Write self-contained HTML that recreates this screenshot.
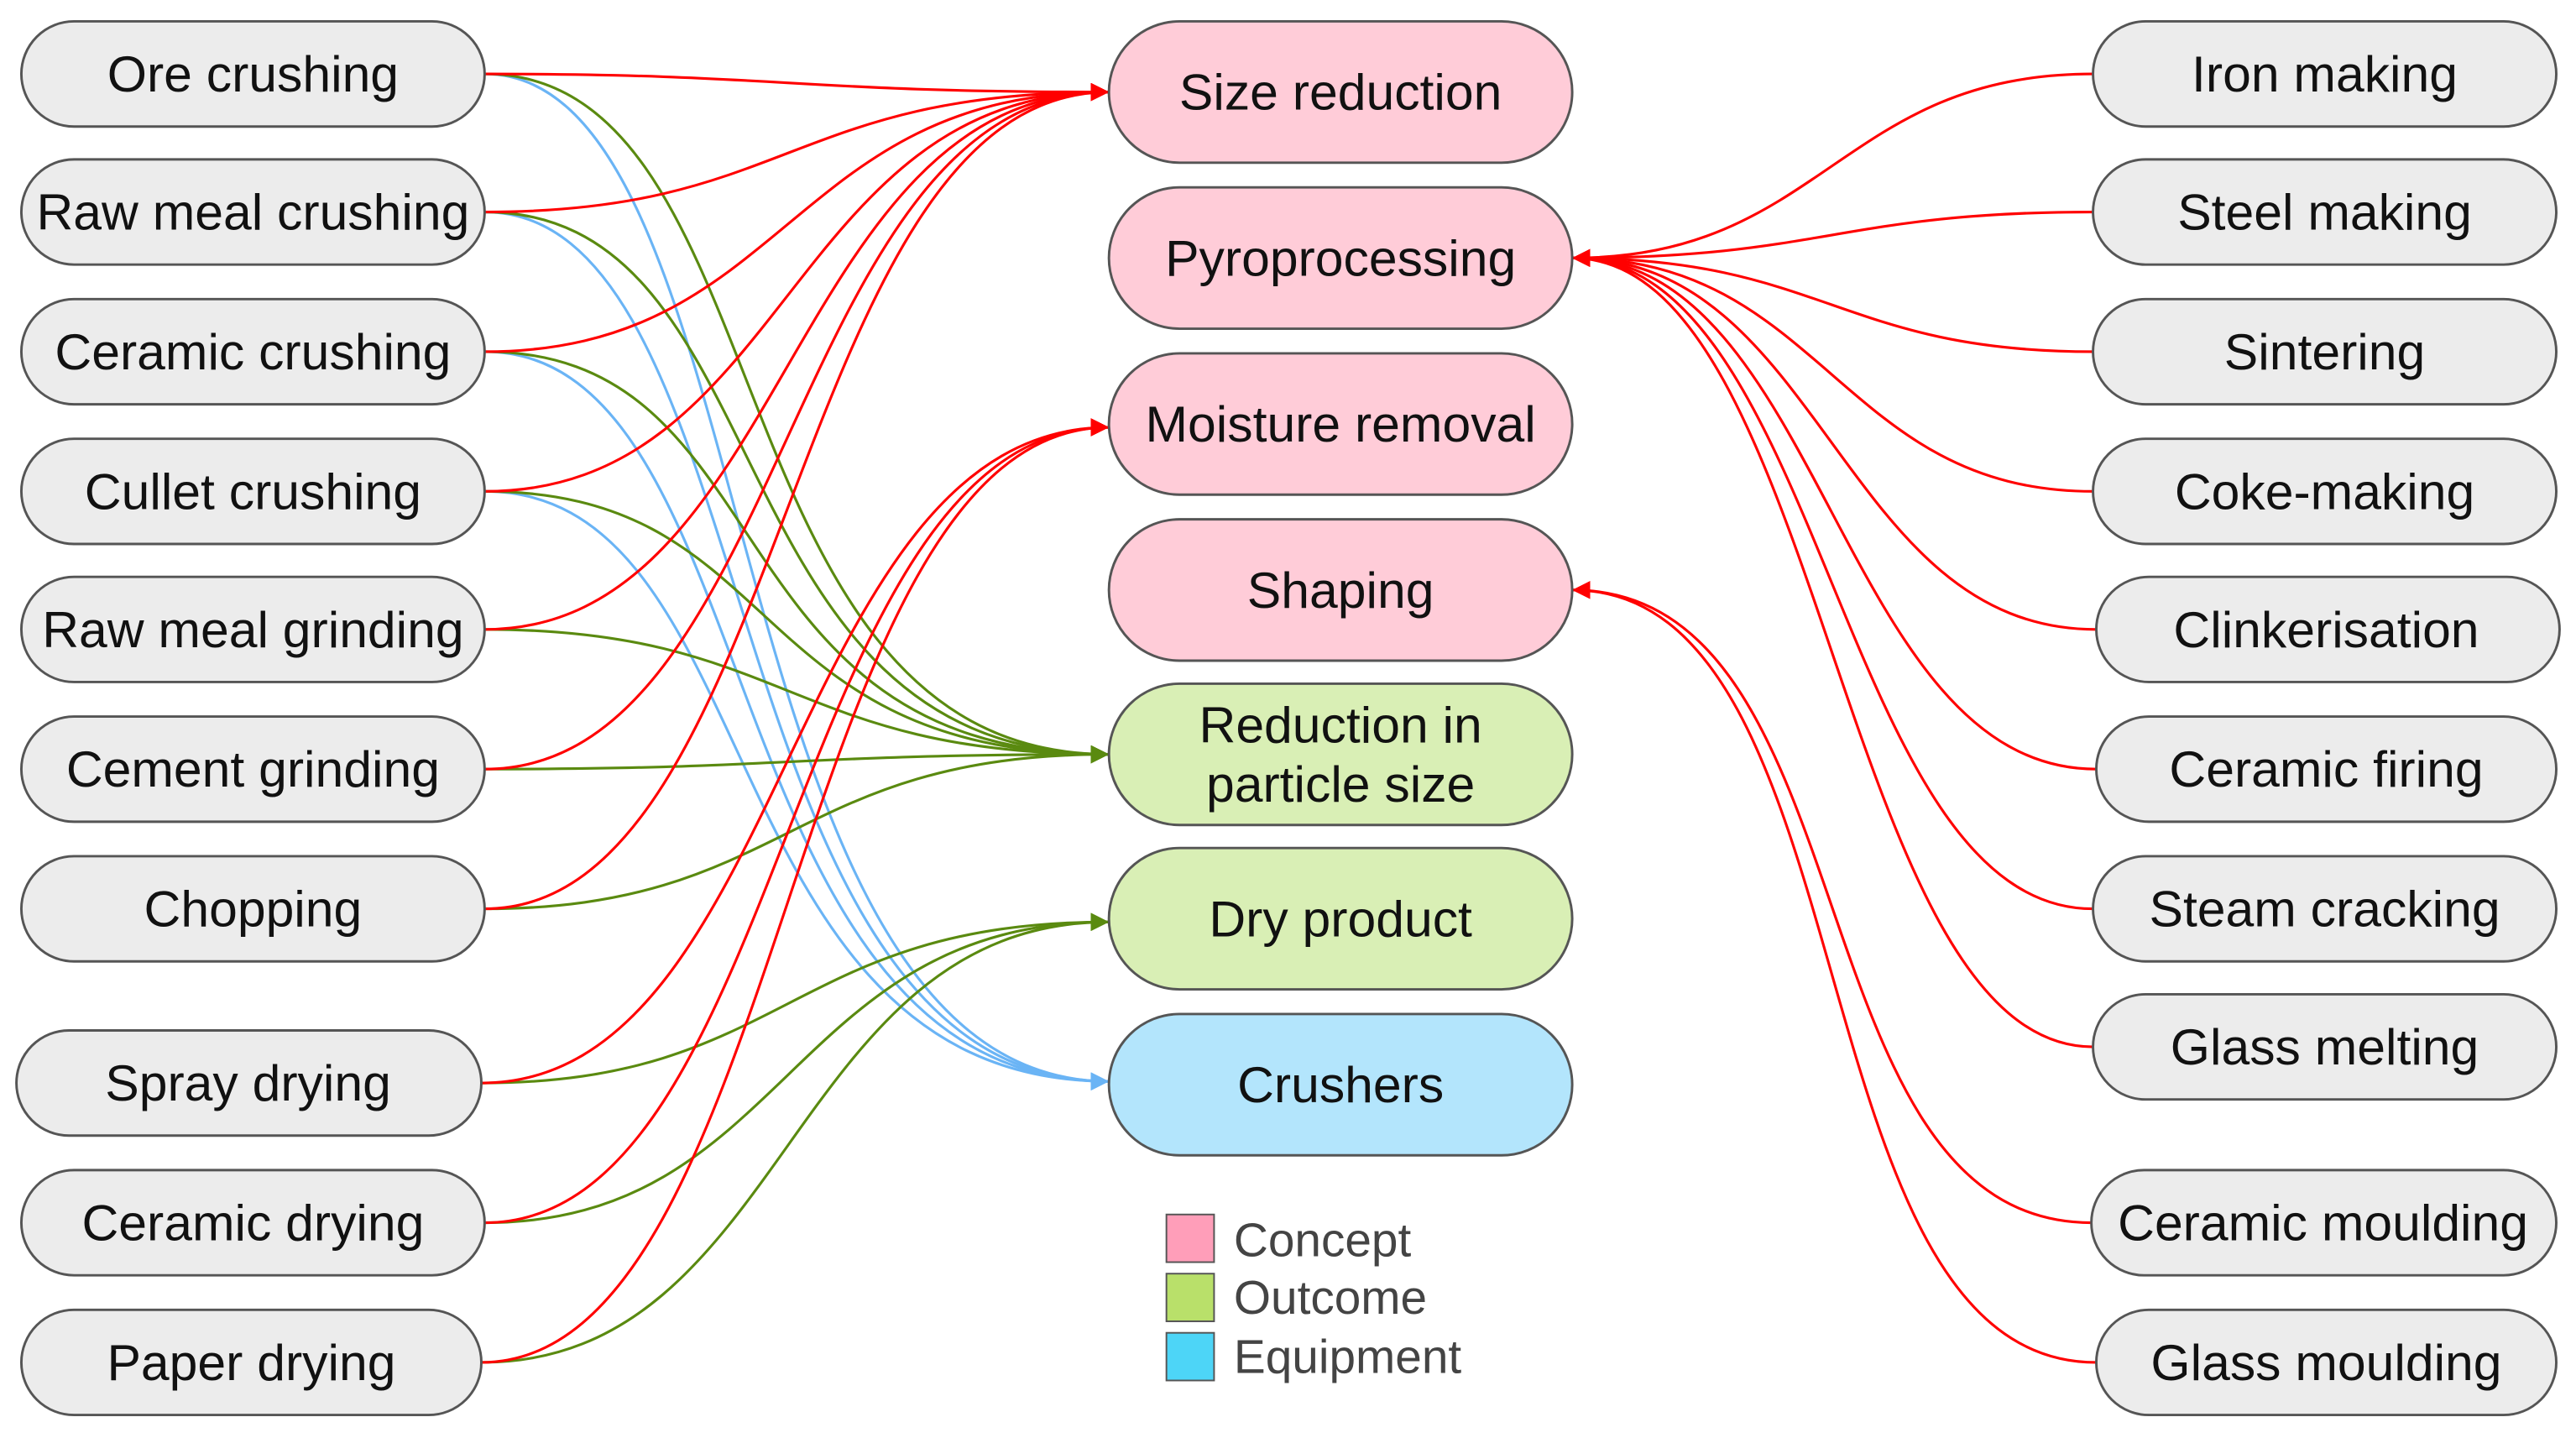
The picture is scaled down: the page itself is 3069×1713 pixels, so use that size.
<!DOCTYPE html>
<html><head><meta charset="utf-8"><style>
html,body{margin:0;padding:0;background:#fff;}
svg{display:block;}
text{font-family:"Liberation Sans",Arial,sans-serif;fill:#111;}
</style></head><body>
<svg width="3069" height="1713" viewBox="0 0 1568 875" preserveAspectRatio="none" xmlns="http://www.w3.org/2000/svg">
<defs>
<marker id="ar" viewBox="0 0 10 10" refX="10" refY="5" markerWidth="11" markerHeight="11" markerUnits="userSpaceOnUse" orient="auto"><path d="M0,0 L10,5 L0,10 z" fill="#ff0000"/></marker>
<marker id="ag" viewBox="0 0 10 10" refX="10" refY="5" markerWidth="11" markerHeight="11" markerUnits="userSpaceOnUse" orient="auto"><path d="M0,0 L10,5 L0,10 z" fill="#5a8a10"/></marker>
<marker id="ab" viewBox="0 0 10 10" refX="10" refY="5" markerWidth="11" markerHeight="11" markerUnits="userSpaceOnUse" orient="auto"><path d="M0,0 L10,5 L0,10 z" fill="#6ab4f5"/></marker>
</defs>
<g fill="none" stroke-width="1.6">
<g stroke="#6ab4f5" marker-end="url(#ab)">
<path d="M295,45 C470,45 430,658 675,658"/>
<path d="M295,129 C470,129 430,658 675,658"/>
<path d="M295,214 C470,214 430,658 675,658"/>
<path d="M295,299 C470,299 430,658 675,658"/>
</g>
<g stroke="#5a8a10" marker-end="url(#ag)">
<path d="M295,45 C480,45 430,459 675,459"/>
<path d="M295,129 C480,129 430,459 675,459"/>
<path d="M295,214 C480,214 430,459 675,459"/>
<path d="M295,299 C480,299 450,459 675,459"/>
<path d="M295,383 C480,383 480,459 675,459"/>
<path d="M295,468 C480,468 480,459 675,459"/>
<path d="M295,553 C480,553 480,459 675,459"/>
<path d="M293,659 C480,659 480,561 675,561"/>
<path d="M295,744 C480,744 480,561 675,561"/>
<path d="M293,829 C480,829 480,561 675,561"/>
</g>
<g stroke="#ff0000" marker-end="url(#ar)">
<path d="M295,45 C480,45 480,56 675,56"/>
<path d="M295,129 C480,129 480,56 675,56"/>
<path d="M295,214 C480,214 480,56 675,56"/>
<path d="M295,299 C480,299 480,56 675,56"/>
<path d="M295,383 C480,383 480,56 675,56"/>
<path d="M295,468 C480,468 480,56 675,56"/>
<path d="M295,553 C480,553 480,56 675,56"/>
<path d="M293,659 C480,659 480,260 675,260"/>
<path d="M295,744 C480,744 480,260 675,260"/>
<path d="M293,829 C480,829 480,260 675,260"/>
</g>
<g stroke="#ff0000" marker-end="url(#ar)">
<path d="M1274,45 C1120,45 1110,157 957,157"/>
<path d="M1274,129 C1120,129 1110,157 957,157"/>
<path d="M1274,214 C1120,214 1110,157 957,157"/>
<path d="M1274,299 C1120,299 1110,157 957,157"/>
<path d="M1276,383 C1120,383 1110,157 957,157"/>
<path d="M1276,468 C1120,468 1110,157 957,157"/>
<path d="M1274,553 C1120,553 1110,157 957,157"/>
<path d="M1274,637 C1120,637 1110,157 957,157"/>
<path d="M1273,744 C1090,744 1140,359 957,359"/>
<path d="M1276,829 C1090,829 1140,359 957,359"/>
</g>
</g>
<g stroke="#555" stroke-width="1.5" fill="#ececec">
<rect x="13" y="13" width="282" height="64" rx="32"/>
<rect x="13" y="97" width="282" height="64" rx="32"/>
<rect x="13" y="182" width="282" height="64" rx="32"/>
<rect x="13" y="267" width="282" height="64" rx="32"/>
<rect x="13" y="351" width="282" height="64" rx="32"/>
<rect x="13" y="436" width="282" height="64" rx="32"/>
<rect x="13" y="521" width="282" height="64" rx="32"/>
<rect x="10" y="627" width="283" height="64" rx="32"/>
<rect x="13" y="712" width="282" height="64" rx="32"/>
<rect x="13" y="797" width="280" height="64" rx="32"/>
<rect x="1274" y="13" width="282" height="64" rx="32"/>
<rect x="1274" y="97" width="282" height="64" rx="32"/>
<rect x="1274" y="182" width="282" height="64" rx="32"/>
<rect x="1274" y="267" width="282" height="64" rx="32"/>
<rect x="1276" y="351" width="282" height="64" rx="32"/>
<rect x="1276" y="436" width="280" height="64" rx="32"/>
<rect x="1274" y="521" width="282" height="64" rx="32"/>
<rect x="1274" y="605" width="282" height="64" rx="32"/>
<rect x="1273" y="712" width="283" height="64" rx="32"/>
<rect x="1276" y="797" width="280" height="64" rx="32"/>
</g>
<g stroke="#555" stroke-width="1.5">
<rect x="675" y="13" width="282" height="86" rx="43" fill="#ffccd8"/>
<rect x="675" y="114" width="282" height="86" rx="43" fill="#ffccd8"/>
<rect x="675" y="215" width="282" height="86" rx="43" fill="#ffccd8"/>
<rect x="675" y="316" width="282" height="86" rx="43" fill="#ffccd8"/>
<rect x="675" y="416" width="282" height="86" rx="43" fill="#d9efb5"/>
<rect x="675" y="516" width="282" height="86" rx="43" fill="#d9efb5"/>
<rect x="675" y="617" width="282" height="86" rx="43" fill="#b3e5fc"/>
</g>
<g font-size="31" text-anchor="middle" dominant-baseline="central">
<text x="154" y="45">Ore crushing</text>
<text x="154" y="129">Raw meal crushing</text>
<text x="154" y="214">Ceramic crushing</text>
<text x="154" y="299">Cullet crushing</text>
<text x="154" y="383">Raw meal grinding</text>
<text x="154" y="468">Cement grinding</text>
<text x="154" y="553">Chopping</text>
<text x="151" y="659">Spray drying</text>
<text x="154" y="744">Ceramic drying</text>
<text x="153" y="829">Paper drying</text>
<text x="1415" y="45">Iron making</text>
<text x="1415" y="129">Steel making</text>
<text x="1415" y="214">Sintering</text>
<text x="1415" y="299">Coke-making</text>
<text x="1416" y="383">Clinkerisation</text>
<text x="1416" y="468">Ceramic firing</text>
<text x="1415" y="553">Steam cracking</text>
<text x="1415" y="637">Glass melting</text>
<text x="1414" y="744">Ceramic moulding</text>
<text x="1416" y="829">Glass moulding</text>
<text x="816" y="56">Size reduction</text>
<text x="816" y="157">Pyroprocessing</text>
<text x="816" y="258">Moisture removal</text>
<text x="816" y="359">Shaping</text>
<text x="816" y="441">Reduction in</text>
<text x="816" y="477">particle size</text>
<text x="816" y="559">Dry product</text>
<text x="816" y="660">Crushers</text>
</g>
<g stroke="#555" stroke-width="1">
<rect x="710" y="739" width="29" height="29" fill="#ff9eb9"/>
<rect x="710" y="775" width="29" height="29" fill="#b9e06a"/>
<rect x="710" y="811" width="29" height="29" fill="#4dd5f7"/>
</g>
<g font-size="29" dominant-baseline="central">
<text x="751" y="755" style="fill:#444">Concept</text>
<text x="751" y="790" style="fill:#444">Outcome</text>
<text x="751" y="826" style="fill:#444">Equipment</text>
</g>
</svg>
</body></html>
